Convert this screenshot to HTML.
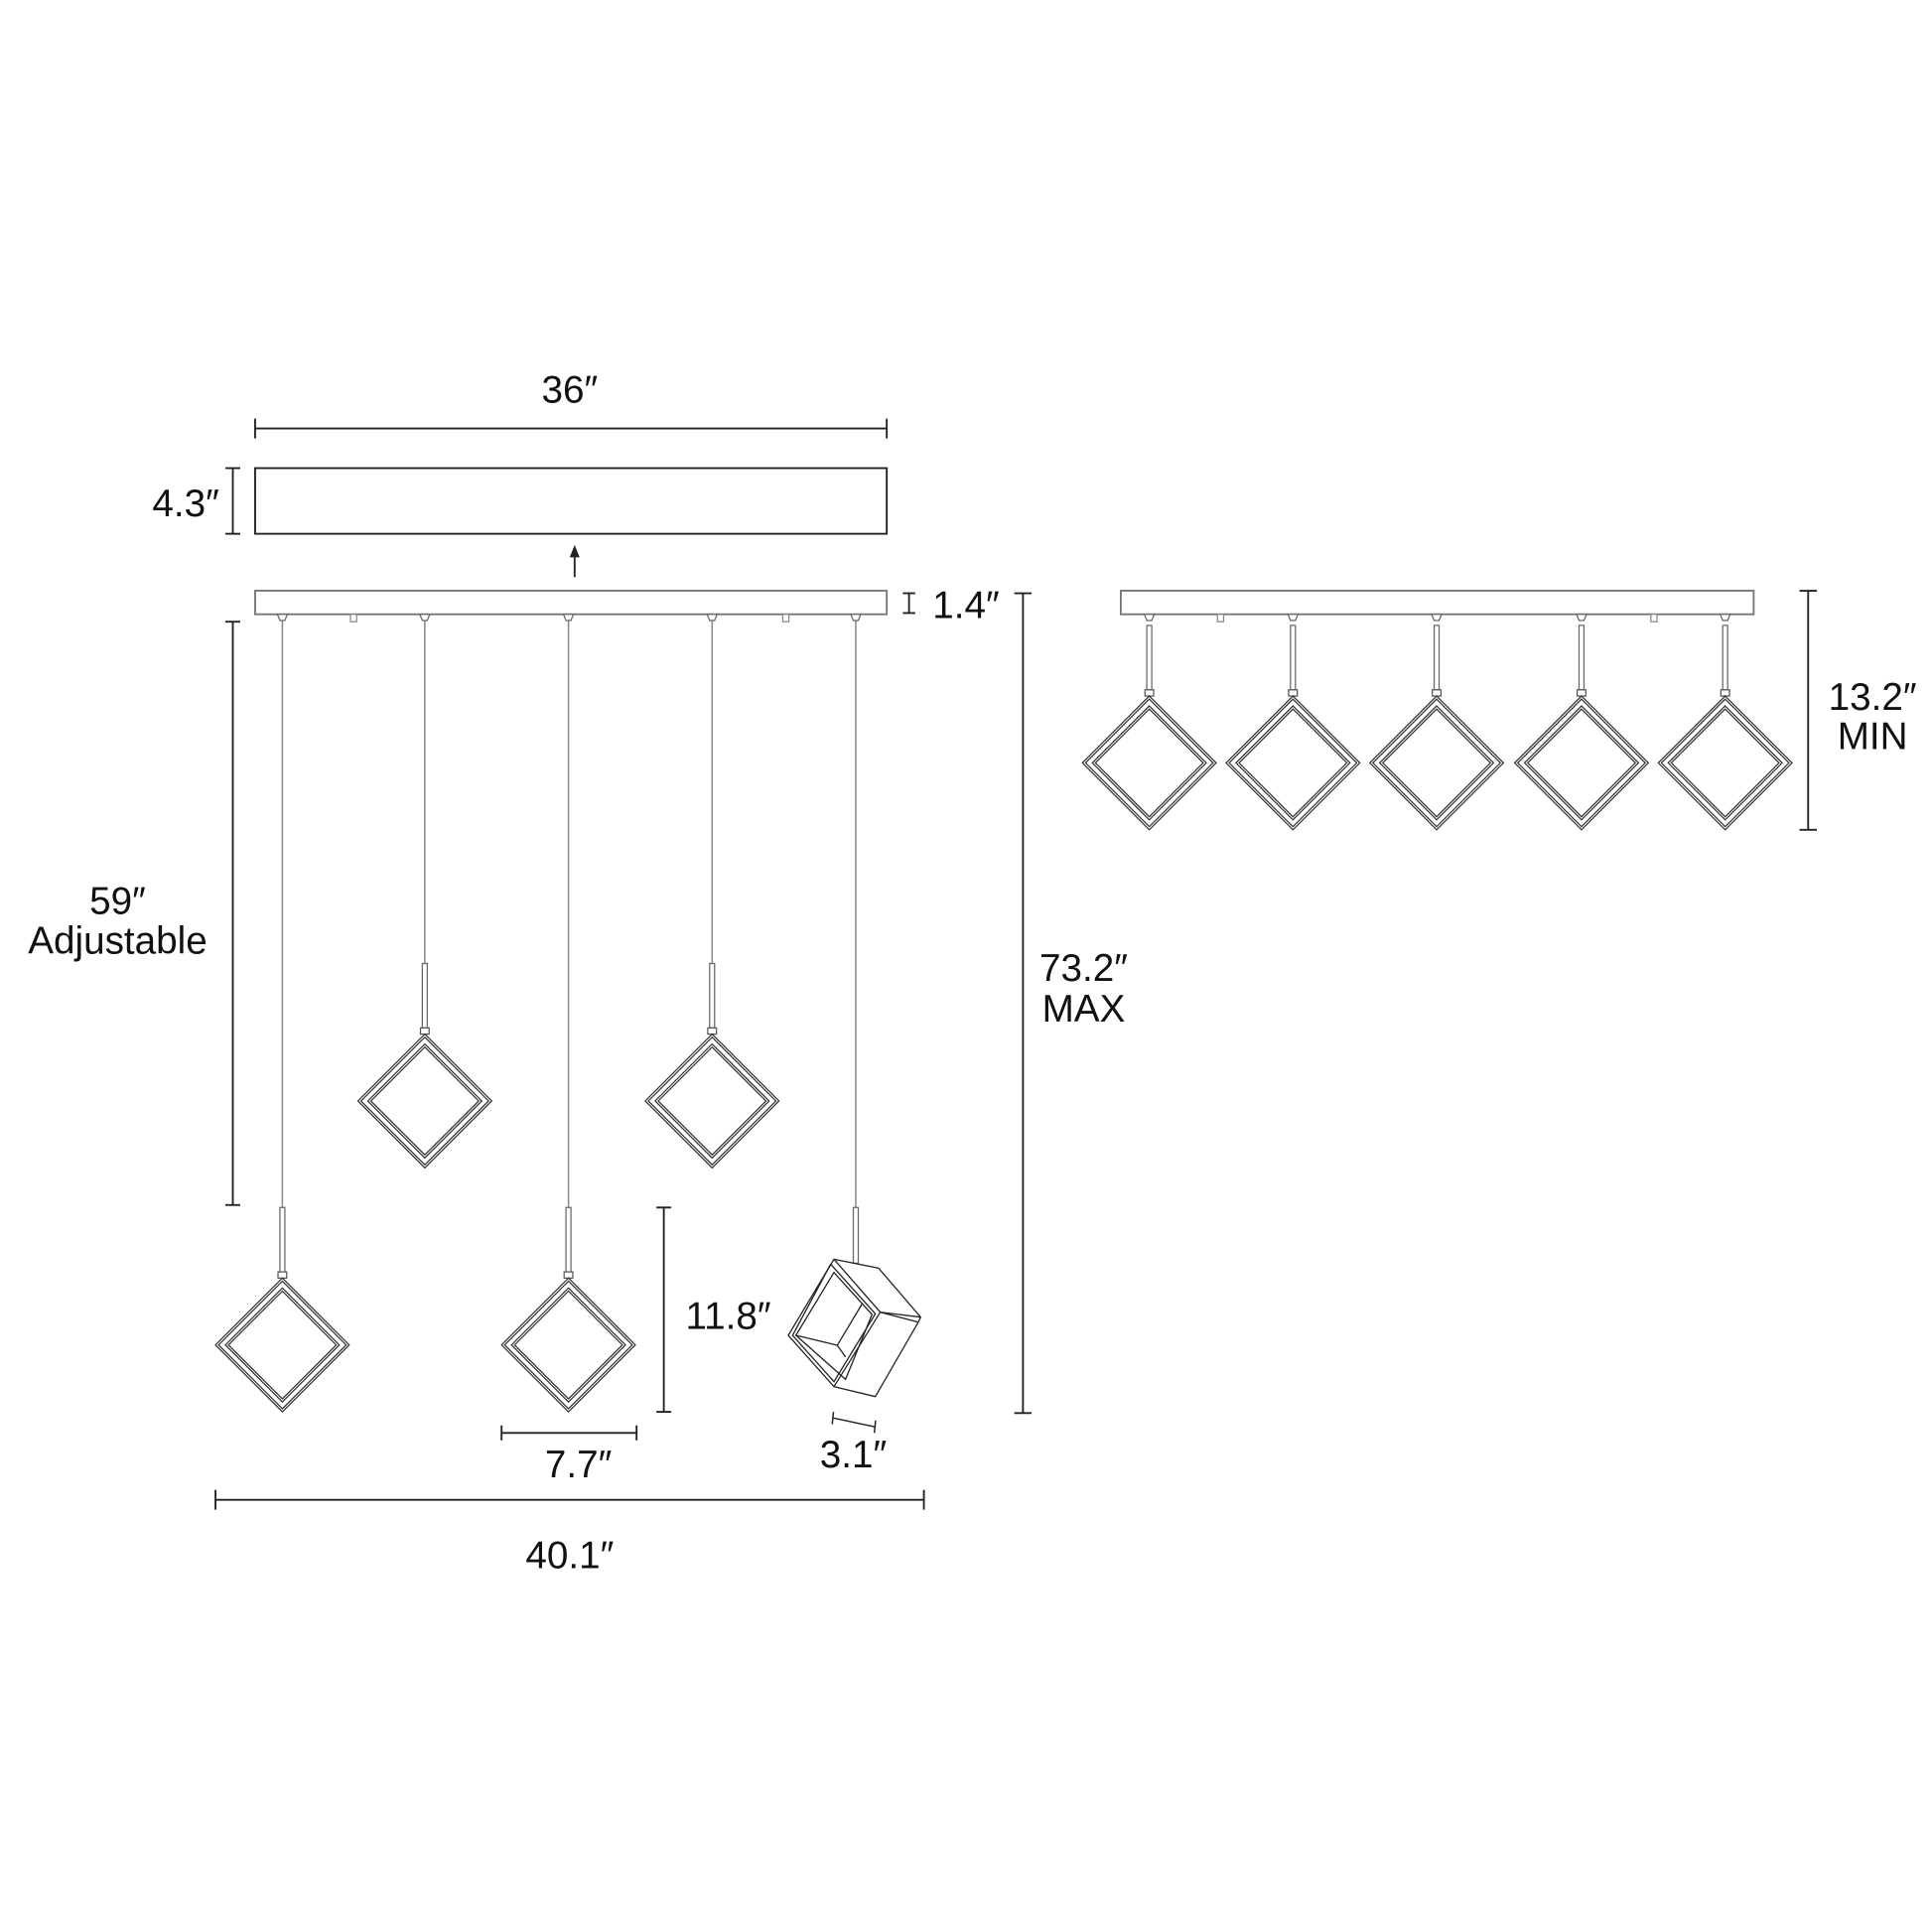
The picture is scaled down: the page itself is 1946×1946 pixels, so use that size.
<!DOCTYPE html>
<html><head><meta charset="utf-8"><style>
html,body{margin:0;padding:0;background:#fff}
svg{display:block}
text{font-family:"Liberation Sans",sans-serif;font-size:31px;fill:#111;text-anchor:middle}
</style></head><body>
<svg width="1946" height="1946" viewBox="0 0 1560 1560" xmlns="http://www.w3.org/2000/svg">
<defs>
<g id="dia" fill="none" stroke="#333" stroke-width="1">
<polygon points="0,-54 54,0 0,54 -54,0"/>
<polygon points="0,-51.5 51.5,0 0,51.5 -51.5,0"/>
<polygon points="0,-46 46,0 0,46 -46,0"/>
<polygon points="0,-43.5 43.5,0 0,43.5 -43.5,0"/>
</g>
<g id="pend">
<rect x="-2" y="0" width="4" height="52" fill="#fff" stroke="#666" stroke-width="1"/>
<rect x="-3.5" y="52" width="7" height="5" fill="#fff" stroke="#555" stroke-width="1"/>
<use href="#dia" y="111"/>
</g>
<g id="conn"><path d="M-4,0 L4,0 L2,5 L-2,5Z" fill="#fff" stroke="#666" stroke-width="1"/></g>
</defs>
<g stroke="#222" stroke-width="1.5" fill="none">
<line x1="206" y1="346" x2="716" y2="346"/><line x1="206" y1="338" x2="206" y2="354"/><line x1="716" y1="338" x2="716" y2="354"/>
<rect x="206" y="378" width="510" height="53"/>
<line x1="188" y1="378" x2="188" y2="431"/><line x1="182" y1="378" x2="194" y2="378"/><line x1="182" y1="431" x2="194" y2="431"/>
<line x1="464" y1="466" x2="464" y2="446"/>
</g>
<path d="M464,440 L460,450 L468,450Z" fill="#222"/>
<g stroke="#777" stroke-width="1.5" fill="none">
<rect x="206" y="477" width="510" height="19"/>
<rect x="905" y="477" width="511" height="19"/>
</g>
<g stroke="#222" stroke-width="1.5">
<line x1="734" y1="479" x2="734" y2="495"/><line x1="729" y1="479" x2="739" y2="479"/><line x1="729" y1="495" x2="739" y2="495"/>
</g>
<g stroke="#888" stroke-width="1" fill="#fff">
<rect x="283" y="496" width="5" height="6"/><rect x="632" y="496" width="5" height="6"/>
<rect x="983" y="496" width="5" height="6"/><rect x="1333" y="496" width="5" height="6"/>
</g>
<g stroke="#888" stroke-width="1.2">
<line x1="228" y1="500" x2="228" y2="975"/><line x1="343" y1="500" x2="343" y2="778"/>
<line x1="459" y1="500" x2="459" y2="975"/><line x1="575" y1="500" x2="575" y2="778"/>
<line x1="691" y1="500" x2="691" y2="975"/>
</g>
<use href="#conn" x="228" y="496"/><use href="#conn" x="343" y="496"/><use href="#conn" x="459" y="496"/><use href="#conn" x="575" y="496"/><use href="#conn" x="691" y="496"/>
<use href="#pend" x="228" y="975"/><use href="#pend" x="343" y="778"/><use href="#pend" x="459" y="975"/><use href="#pend" x="575" y="778"/>
<rect x="689" y="975" width="4" height="45" fill="#fff" stroke="#666" stroke-width="1"/>
<g transform="translate(633.3,1010.1) scale(0.2672)" fill="none" stroke="#222">
<g stroke-width="1.3">
<polygon vector-effect="non-scaling-stroke" points="150,25 285,52 412,200 405,215 275,440 150,410 12,255"/>
<polyline vector-effect="non-scaling-stroke" points="150,25 290,185 412,200"/>
<polyline vector-effect="non-scaling-stroke" points="290,185 405,215"/>
<polyline vector-effect="non-scaling-stroke" points="290,185 150,410"/>
<polyline vector-effect="non-scaling-stroke" points="140,40 275,190 150,395 25,255 140,40"/>
<polygon vector-effect="non-scaling-stroke" points="150,65 265,192 185,388 35,255"/>
<polyline vector-effect="non-scaling-stroke" points="35,255 160,285 235,160"/>
<polyline vector-effect="non-scaling-stroke" points="160,285 185,320"/>
</g>
</g>
<g stroke="#222" stroke-width="1.2">
<line x1="673" y1="1145" x2="706" y2="1152"/><line x1="673" y1="1140" x2="672" y2="1150"/><line x1="707" y1="1147" x2="706" y2="1157"/>
</g>
<use href="#conn" x="928" y="496"/><use href="#conn" x="1044" y="496"/><use href="#conn" x="1160" y="496"/><use href="#conn" x="1277" y="496"/><use href="#conn" x="1393" y="496"/>
<use href="#pend" x="928" y="505"/><use href="#pend" x="1044" y="505"/><use href="#pend" x="1160" y="505"/><use href="#pend" x="1277" y="505"/><use href="#pend" x="1393" y="505"/>
<g stroke="#222" stroke-width="1.5">
<line x1="188" y1="502" x2="188" y2="973"/><line x1="182" y1="502" x2="194" y2="502"/><line x1="182" y1="973" x2="194" y2="973"/>
<line x1="536" y1="975" x2="536" y2="1140"/><line x1="530" y1="975" x2="542" y2="975"/><line x1="530" y1="1140" x2="542" y2="1140"/>
<line x1="405" y1="1157" x2="514" y2="1157"/><line x1="405" y1="1151" x2="405" y2="1163"/><line x1="514" y1="1151" x2="514" y2="1163"/>
<line x1="174" y1="1211" x2="746" y2="1211"/><line x1="174" y1="1203" x2="174" y2="1219"/><line x1="746" y1="1203" x2="746" y2="1219"/>
<line x1="826" y1="479" x2="826" y2="1141"/><line x1="819" y1="479" x2="833" y2="479"/><line x1="819" y1="1141" x2="833" y2="1141"/>
<line x1="1460" y1="477" x2="1460" y2="670"/><line x1="1453" y1="477" x2="1467" y2="477"/><line x1="1453" y1="670" x2="1467" y2="670"/>
</g>
<text x="460" y="325">36″</text>
<text x="150" y="417">4.3″</text>
<text x="780" y="499">1.4″</text>
<text x="95" y="738">59″</text>
<text x="95" y="770">Adjustable</text>
<text x="588" y="1073">11.8″</text>
<text x="467" y="1193">7.7″</text>
<text x="689" y="1185">3.1″</text>
<text x="460" y="1266">40.1″</text>
<text x="875" y="792">73.2″</text>
<text x="875" y="825">MAX</text>
<text x="1512" y="573">13.2″</text>
<text x="1512" y="605">MIN</text>
</svg>
</body></html>
